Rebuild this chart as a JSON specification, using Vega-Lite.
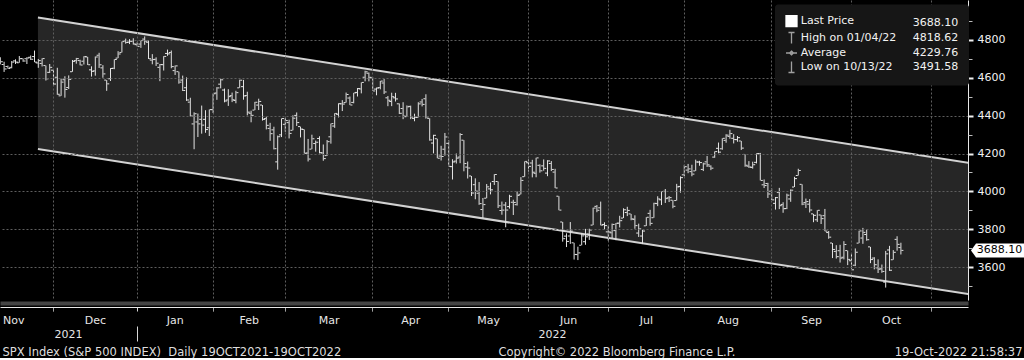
{
  "$schema": "https://vega.github.io/schema/vega-lite/v6.json",
  "width": 968,
  "height": 300,
  "padding": 0,
  "background": "#000000",
  "config": {"view": {"stroke": null}, "font": "DejaVu Sans"},
  "datasets": {
    "chan": [
      {"i": 15.9, "up": 4918, "lo": 4224},
      {"i": 260.7, "up": 4151, "lo": 3457}
    ],
    "leg": [
      {"item": "Last Price", "val": "3688.10"},
      {"item": "High on 01/04/22", "val": "4818.62"},
      {"item": "Average", "val": "4229.76"},
      {"item": "Low on 10/13/22", "val": "3491.58"}
    ],
    "spx": [
      {"d":"2021-11-08","i":5,"o":4701.5,"h":4714.9,"l":4694.4,"c":4701.7},
      {"d":"2021-11-09","i":6,"o":4707.3,"h":4708.5,"l":4670.9,"c":4685.3},
      {"d":"2021-11-10","i":7,"o":4670.3,"h":4684.9,"l":4630.9,"c":4646.7},
      {"d":"2021-11-11","i":8,"o":4659.4,"h":4664.6,"l":4648.3,"c":4649.3},
      {"d":"2021-11-12","i":9,"o":4655.2,"h":4688.5,"l":4650.0,"c":4682.9},
      {"d":"2021-11-15","i":10,"o":4689.3,"h":4697.4,"l":4672.9,"c":4682.8},
      {"d":"2021-11-16","i":11,"o":4679.4,"h":4714.9,"l":4679.4,"c":4700.9},
      {"d":"2021-11-17","i":12,"o":4701.5,"h":4701.5,"l":4684.4,"c":4688.7},
      {"d":"2021-11-18","i":13,"o":4700.7,"h":4708.8,"l":4672.8,"c":4704.5},
      {"d":"2021-11-19","i":14,"o":4708.4,"h":4717.8,"l":4694.2,"c":4697.9},
      {"d":"2021-11-22","i":15,"o":4712.0,"h":4743.8,"l":4682.2,"c":4682.9},
      {"d":"2021-11-23","i":16,"o":4678.5,"h":4699.4,"l":4652.7,"c":4690.7},
      {"d":"2021-11-24","i":17,"o":4675.8,"h":4702.9,"l":4659.9,"c":4701.5},
      {"d":"2021-11-26","i":18,"o":4664.6,"h":4664.6,"l":4585.4,"c":4594.6},
      {"d":"2021-11-29","i":19,"o":4628.8,"h":4672.9,"l":4625.3,"c":4655.3},
      {"d":"2021-11-30","i":20,"o":4640.2,"h":4646.0,"l":4560.0,"c":4567.0},
      {"d":"2021-12-01","i":21,"o":4602.8,"h":4652.9,"l":4510.3,"c":4513.0},
      {"d":"2021-12-02","i":22,"o":4504.7,"h":4595.5,"l":4504.7,"c":4577.1},
      {"d":"2021-12-03","i":23,"o":4589.5,"h":4608.0,"l":4495.1,"c":4538.4},
      {"d":"2021-12-06","i":24,"o":4548.4,"h":4612.6,"l":4540.5,"c":4591.7},
      {"d":"2021-12-07","i":25,"o":4632.0,"h":4694.0,"l":4631.9,"c":4686.8},
      {"d":"2021-12-08","i":26,"o":4690.9,"h":4705.1,"l":4674.5,"c":4701.2},
      {"d":"2021-12-09","i":27,"o":4691.0,"h":4695.3,"l":4666.0,"c":4667.5},
      {"d":"2021-12-10","i":28,"o":4687.6,"h":4713.6,"l":4670.2,"c":4712.0},
      {"d":"2021-12-13","i":29,"o":4710.3,"h":4710.3,"l":4667.6,"c":4669.0},
      {"d":"2021-12-14","i":30,"o":4642.0,"h":4660.5,"l":4606.5,"c":4634.1},
      {"d":"2021-12-15","i":31,"o":4636.5,"h":4712.6,"l":4611.2,"c":4709.9},
      {"d":"2021-12-16","i":32,"o":4719.1,"h":4732.0,"l":4651.9,"c":4668.7},
      {"d":"2021-12-17","i":33,"o":4652.5,"h":4666.7,"l":4600.2,"c":4620.6},
      {"d":"2021-12-20","i":34,"o":4587.9,"h":4587.9,"l":4531.1,"c":4568.0},
      {"d":"2021-12-21","i":35,"o":4595.0,"h":4651.1,"l":4583.2,"c":4649.2},
      {"d":"2021-12-22","i":36,"o":4650.4,"h":4697.7,"l":4645.5,"c":4696.6},
      {"d":"2021-12-23","i":37,"o":4704.0,"h":4740.7,"l":4704.0,"c":4725.8},
      {"d":"2021-12-27","i":38,"o":4734.0,"h":4791.5,"l":4734.0,"c":4791.2},
      {"d":"2021-12-28","i":39,"o":4795.5,"h":4807.0,"l":4780.0,"c":4786.4},
      {"d":"2021-12-29","i":40,"o":4788.6,"h":4804.1,"l":4778.1,"c":4793.1},
      {"d":"2021-12-30","i":41,"o":4794.2,"h":4808.9,"l":4775.3,"c":4778.7},
      {"d":"2021-12-31","i":42,"o":4775.2,"h":4786.8,"l":4765.8,"c":4766.2},
      {"d":"2022-01-03","i":43,"o":4778.1,"h":4796.6,"l":4758.2,"c":4796.6},
      {"d":"2022-01-04","i":44,"o":4804.5,"h":4818.6,"l":4774.3,"c":4793.5},
      {"d":"2022-01-05","i":45,"o":4788.0,"h":4797.7,"l":4699.4,"c":4700.6},
      {"d":"2022-01-06","i":46,"o":4693.4,"h":4725.0,"l":4671.3,"c":4696.1},
      {"d":"2022-01-07","i":47,"o":4697.7,"h":4708.0,"l":4662.7,"c":4677.0},
      {"d":"2022-01-10","i":48,"o":4655.3,"h":4673.0,"l":4582.2,"c":4670.3},
      {"d":"2022-01-11","i":49,"o":4669.1,"h":4714.1,"l":4638.3,"c":4713.1},
      {"d":"2022-01-12","i":50,"o":4728.6,"h":4749.0,"l":4716.1,"c":4726.4},
      {"d":"2022-01-13","i":51,"o":4733.6,"h":4744.1,"l":4650.3,"c":4659.0},
      {"d":"2022-01-14","i":52,"o":4638.0,"h":4665.1,"l":4614.8,"c":4662.9},
      {"d":"2022-01-18","i":53,"o":4632.2,"h":4632.2,"l":4568.7,"c":4577.1},
      {"d":"2022-01-19","i":54,"o":4588.0,"h":4611.6,"l":4530.2,"c":4532.8},
      {"d":"2022-01-20","i":55,"o":4547.4,"h":4602.1,"l":4478.0,"c":4482.7},
      {"d":"2022-01-21","i":56,"o":4471.4,"h":4494.5,"l":4395.3,"c":4397.9},
      {"d":"2022-01-24","i":57,"o":4356.3,"h":4417.4,"l":4222.6,"c":4410.1},
      {"d":"2022-01-25","i":58,"o":4366.6,"h":4411.0,"l":4287.1,"c":4356.5},
      {"d":"2022-01-26","i":59,"o":4380.6,"h":4453.2,"l":4304.8,"c":4349.9},
      {"d":"2022-01-27","i":60,"o":4380.6,"h":4428.7,"l":4309.5,"c":4326.5},
      {"d":"2022-01-28","i":61,"o":4336.2,"h":4432.7,"l":4292.5,"c":4431.9},
      {"d":"2022-01-31","i":62,"o":4431.8,"h":4516.9,"l":4414.0,"c":4515.6},
      {"d":"2022-02-01","i":63,"o":4519.6,"h":4550.5,"l":4483.5,"c":4546.5},
      {"d":"2022-02-02","i":64,"o":4566.4,"h":4595.3,"l":4544.3,"c":4589.4},
      {"d":"2022-02-03","i":65,"o":4535.4,"h":4542.9,"l":4470.4,"c":4477.4},
      {"d":"2022-02-04","i":66,"o":4482.8,"h":4539.7,"l":4451.5,"c":4500.5},
      {"d":"2022-02-07","i":67,"o":4505.8,"h":4521.9,"l":4471.5,"c":4483.9},
      {"d":"2022-02-08","i":68,"o":4480.0,"h":4531.3,"l":4465.4,"c":4521.5},
      {"d":"2022-02-09","i":69,"o":4547.0,"h":4590.0,"l":4547.0,"c":4587.2},
      {"d":"2022-02-10","i":70,"o":4553.2,"h":4588.9,"l":4484.3,"c":4504.1},
      {"d":"2022-02-11","i":71,"o":4506.3,"h":4526.3,"l":4401.4,"c":4418.6},
      {"d":"2022-02-14","i":72,"o":4412.6,"h":4426.2,"l":4364.8,"c":4401.7},
      {"d":"2022-02-15","i":73,"o":4429.3,"h":4472.8,"l":4429.3,"c":4471.1},
      {"d":"2022-02-16","i":74,"o":4455.8,"h":4489.6,"l":4429.7,"c":4475.0},
      {"d":"2022-02-17","i":75,"o":4456.1,"h":4456.1,"l":4373.8,"c":4380.3},
      {"d":"2022-02-18","i":76,"o":4384.6,"h":4394.6,"l":4327.2,"c":4348.9},
      {"d":"2022-02-22","i":77,"o":4332.7,"h":4362.1,"l":4267.1,"c":4304.8},
      {"d":"2022-02-23","i":78,"o":4324.9,"h":4341.5,"l":4221.5,"c":4225.5},
      {"d":"2022-02-24","i":79,"o":4155.8,"h":4294.7,"l":4114.7,"c":4288.7},
      {"d":"2022-02-25","i":80,"o":4298.4,"h":4385.3,"l":4286.8,"c":4384.7},
      {"d":"2022-02-28","i":81,"o":4354.2,"h":4388.8,"l":4315.1,"c":4373.9},
      {"d":"2022-03-01","i":82,"o":4363.1,"h":4378.5,"l":4279.5,"c":4306.3},
      {"d":"2022-03-02","i":83,"o":4322.6,"h":4401.5,"l":4322.6,"c":4386.5},
      {"d":"2022-03-03","i":84,"o":4401.3,"h":4416.8,"l":4345.6,"c":4363.5},
      {"d":"2022-03-04","i":85,"o":4342.1,"h":4342.1,"l":4285.0,"c":4328.9},
      {"d":"2022-03-07","i":86,"o":4327.0,"h":4327.0,"l":4199.9,"c":4201.1},
      {"d":"2022-03-08","i":87,"o":4202.7,"h":4276.9,"l":4157.9,"c":4170.7},
      {"d":"2022-03-09","i":88,"o":4223.1,"h":4299.4,"l":4223.1,"c":4277.9},
      {"d":"2022-03-10","i":89,"o":4252.6,"h":4268.3,"l":4209.8,"c":4259.5},
      {"d":"2022-03-11","i":90,"o":4279.5,"h":4291.0,"l":4200.5,"c":4204.3},
      {"d":"2022-03-14","i":91,"o":4202.8,"h":4247.6,"l":4161.7,"c":4173.1},
      {"d":"2022-03-15","i":92,"o":4188.8,"h":4271.1,"l":4187.9,"c":4262.5},
      {"d":"2022-03-16","i":93,"o":4288.1,"h":4358.0,"l":4252.0,"c":4357.9},
      {"d":"2022-03-17","i":94,"o":4345.1,"h":4412.7,"l":4335.7,"c":4411.7},
      {"d":"2022-03-18","i":95,"o":4407.3,"h":4465.4,"l":4390.6,"c":4463.1},
      {"d":"2022-03-21","i":96,"o":4462.4,"h":4481.8,"l":4424.3,"c":4461.2},
      {"d":"2022-03-22","i":97,"o":4469.1,"h":4522.0,"l":4469.1,"c":4511.6},
      {"d":"2022-03-23","i":98,"o":4493.1,"h":4501.1,"l":4455.8,"c":4456.2},
      {"d":"2022-03-24","i":99,"o":4470.0,"h":4520.6,"l":4465.2,"c":4520.2},
      {"d":"2022-03-25","i":100,"o":4522.7,"h":4546.0,"l":4501.1,"c":4543.1},
      {"d":"2022-03-28","i":101,"o":4541.1,"h":4575.7,"l":4517.7,"c":4575.5},
      {"d":"2022-03-29","i":102,"o":4602.9,"h":4637.3,"l":4581.2,"c":4631.6},
      {"d":"2022-03-30","i":103,"o":4624.2,"h":4627.8,"l":4581.3,"c":4602.5},
      {"d":"2022-03-31","i":104,"o":4599.0,"h":4603.1,"l":4530.4,"c":4530.4},
      {"d":"2022-04-01","i":105,"o":4540.3,"h":4548.7,"l":4507.6,"c":4545.9},
      {"d":"2022-04-04","i":106,"o":4548.0,"h":4583.5,"l":4539.2,"c":4582.6},
      {"d":"2022-04-05","i":107,"o":4572.5,"h":4593.5,"l":4514.2,"c":4525.1},
      {"d":"2022-04-06","i":108,"o":4494.2,"h":4503.9,"l":4450.0,"c":4481.2},
      {"d":"2022-04-07","i":109,"o":4474.7,"h":4521.2,"l":4450.3,"c":4500.2},
      {"d":"2022-04-08","i":110,"o":4494.2,"h":4520.4,"l":4474.6,"c":4488.3},
      {"d":"2022-04-11","i":111,"o":4462.6,"h":4464.3,"l":4408.4,"c":4412.5},
      {"d":"2022-04-12","i":112,"o":4437.6,"h":4471.0,"l":4381.3,"c":4397.5},
      {"d":"2022-04-13","i":113,"o":4394.3,"h":4453.9,"l":4392.7,"c":4446.6},
      {"d":"2022-04-14","i":114,"o":4449.1,"h":4452.8,"l":4381.3,"c":4392.6},
      {"d":"2022-04-18","i":115,"o":4385.6,"h":4410.3,"l":4370.3,"c":4391.7},
      {"d":"2022-04-19","i":116,"o":4390.6,"h":4471.0,"l":4390.6,"c":4462.2},
      {"d":"2022-04-20","i":117,"o":4472.3,"h":4488.3,"l":4448.8,"c":4459.5},
      {"d":"2022-04-21","i":118,"o":4489.2,"h":4512.9,"l":4384.5,"c":4393.7},
      {"d":"2022-04-22","i":119,"o":4385.8,"h":4385.8,"l":4267.6,"c":4271.8},
      {"d":"2022-04-25","i":120,"o":4255.3,"h":4299.0,"l":4200.8,"c":4296.1},
      {"d":"2022-04-26","i":121,"o":4278.1,"h":4278.1,"l":4175.0,"c":4175.2},
      {"d":"2022-04-27","i":122,"o":4186.5,"h":4240.7,"l":4162.9,"c":4184.0},
      {"d":"2022-04-28","i":123,"o":4222.6,"h":4308.5,"l":4188.6,"c":4287.5},
      {"d":"2022-04-29","i":124,"o":4253.8,"h":4269.7,"l":4131.6,"c":4131.9},
      {"d":"2022-05-02","i":125,"o":4130.6,"h":4169.8,"l":4062.5,"c":4155.4},
      {"d":"2022-05-03","i":126,"o":4159.8,"h":4200.1,"l":4147.1,"c":4175.5},
      {"d":"2022-05-04","i":127,"o":4181.2,"h":4307.7,"l":4148.9,"c":4300.2},
      {"d":"2022-05-05","i":128,"o":4270.4,"h":4270.4,"l":4106.0,"c":4146.9},
      {"d":"2022-05-06","i":129,"o":4128.2,"h":4157.7,"l":4067.9,"c":4123.3},
      {"d":"2022-05-09","i":130,"o":4081.3,"h":4081.3,"l":3975.5,"c":3991.2},
      {"d":"2022-05-10","i":131,"o":4035.2,"h":4068.8,"l":3958.2,"c":4001.1},
      {"d":"2022-05-11","i":132,"o":3990.1,"h":4049.1,"l":3928.8,"c":3935.2},
      {"d":"2022-05-12","i":133,"o":3904.0,"h":3964.8,"l":3858.9,"c":3930.1},
      {"d":"2022-05-13","i":134,"o":3963.9,"h":4038.9,"l":3963.9,"c":4023.9},
      {"d":"2022-05-16","i":135,"o":4013.0,"h":4046.5,"l":3984.0,"c":4008.0},
      {"d":"2022-05-17","i":136,"o":4052.0,"h":4090.7,"l":4033.9,"c":4088.9},
      {"d":"2022-05-18","i":137,"o":4052.0,"h":4052.0,"l":3911.9,"c":3923.7},
      {"d":"2022-05-19","i":138,"o":3899.0,"h":3946.0,"l":3876.6,"c":3901.0},
      {"d":"2022-05-20","i":139,"o":3927.8,"h":3943.4,"l":3810.3,"c":3901.4},
      {"d":"2022-05-23","i":140,"o":3919.4,"h":3981.9,"l":3909.0,"c":3973.8},
      {"d":"2022-05-24","i":141,"o":3942.9,"h":3955.7,"l":3875.1,"c":3941.5},
      {"d":"2022-05-25","i":142,"o":3929.6,"h":3999.3,"l":3925.0,"c":3978.7},
      {"d":"2022-05-26","i":143,"o":3984.6,"h":4075.1,"l":3984.6,"c":4057.8},
      {"d":"2022-05-27","i":144,"o":4077.4,"h":4158.5,"l":4077.4,"c":4158.2},
      {"d":"2022-05-31","i":145,"o":4151.1,"h":4168.3,"l":4104.9,"c":4132.2},
      {"d":"2022-06-01","i":146,"o":4149.8,"h":4166.5,"l":4073.9,"c":4101.2},
      {"d":"2022-06-02","i":147,"o":4095.4,"h":4177.5,"l":4074.4,"c":4176.8},
      {"d":"2022-06-03","i":148,"o":4137.6,"h":4142.7,"l":4098.7,"c":4108.5},
      {"d":"2022-06-06","i":149,"o":4134.7,"h":4168.8,"l":4109.2,"c":4121.4},
      {"d":"2022-06-07","i":150,"o":4096.5,"h":4164.9,"l":4080.2,"c":4160.7},
      {"d":"2022-06-08","i":151,"o":4147.1,"h":4160.1,"l":4107.2,"c":4115.8},
      {"d":"2022-06-09","i":152,"o":4101.7,"h":4119.1,"l":4017.2,"c":4017.8},
      {"d":"2022-06-10","i":153,"o":3974.4,"h":3974.4,"l":3900.2,"c":3900.9},
      {"d":"2022-06-13","i":154,"o":3838.2,"h":3838.2,"l":3734.3,"c":3750.0},
      {"d":"2022-06-14","i":155,"o":3763.5,"h":3778.2,"l":3705.7,"c":3735.5},
      {"d":"2022-06-15","i":156,"o":3764.1,"h":3837.9,"l":3722.3,"c":3790.0},
      {"d":"2022-06-16","i":157,"o":3728.2,"h":3728.2,"l":3639.8,"c":3666.8},
      {"d":"2022-06-17","i":158,"o":3665.9,"h":3707.7,"l":3636.9,"c":3674.8},
      {"d":"2022-06-21","i":159,"o":3715.3,"h":3779.7,"l":3715.3,"c":3764.8},
      {"d":"2022-06-22","i":160,"o":3733.9,"h":3801.8,"l":3717.7,"c":3759.9},
      {"d":"2022-06-23","i":161,"o":3774.7,"h":3802.6,"l":3743.5,"c":3795.7},
      {"d":"2022-06-24","i":162,"o":3821.8,"h":3913.7,"l":3821.8,"c":3911.7},
      {"d":"2022-06-27","i":163,"o":3920.8,"h":3927.7,"l":3889.7,"c":3900.1},
      {"d":"2022-06-28","i":164,"o":3913.0,"h":3945.9,"l":3820.1,"c":3821.6},
      {"d":"2022-06-29","i":165,"o":3825.1,"h":3836.5,"l":3799.0,"c":3819.0},
      {"d":"2022-06-30","i":166,"o":3786.0,"h":3819.0,"l":3738.7,"c":3785.4},
      {"d":"2022-07-01","i":167,"o":3781.0,"h":3829.8,"l":3752.1,"c":3825.3},
      {"d":"2022-07-05","i":168,"o":3792.6,"h":3832.2,"l":3742.1,"c":3831.4},
      {"d":"2022-07-06","i":169,"o":3832.0,"h":3870.9,"l":3809.4,"c":3845.1},
      {"d":"2022-07-07","i":170,"o":3858.9,"h":3910.6,"l":3858.9,"c":3902.6},
      {"d":"2022-07-08","i":171,"o":3888.3,"h":3918.5,"l":3869.3,"c":3899.4},
      {"d":"2022-07-11","i":172,"o":3880.9,"h":3880.9,"l":3847.2,"c":3854.4},
      {"d":"2022-07-12","i":173,"o":3852.0,"h":3873.4,"l":3802.4,"c":3818.8},
      {"d":"2022-07-13","i":174,"o":3779.7,"h":3829.4,"l":3759.1,"c":3801.8},
      {"d":"2022-07-14","i":175,"o":3764.0,"h":3796.4,"l":3721.6,"c":3790.4},
      {"d":"2022-07-15","i":176,"o":3818.0,"h":3863.6,"l":3817.2,"c":3863.2},
      {"d":"2022-07-18","i":177,"o":3883.8,"h":3902.4,"l":3818.6,"c":3830.9},
      {"d":"2022-07-19","i":178,"o":3860.7,"h":3939.8,"l":3860.7,"c":3936.7},
      {"d":"2022-07-20","i":179,"o":3935.3,"h":3974.1,"l":3922.0,"c":3959.9},
      {"d":"2022-07-21","i":180,"o":3955.5,"h":3999.3,"l":3927.6,"c":3999.0},
      {"d":"2022-07-22","i":181,"o":4000.2,"h":4012.4,"l":3938.8,"c":3961.6},
      {"d":"2022-07-25","i":182,"o":3965.7,"h":3975.3,"l":3943.5,"c":3966.8},
      {"d":"2022-07-26","i":183,"o":3953.2,"h":3953.2,"l":3910.7,"c":3921.1},
      {"d":"2022-07-27","i":184,"o":3951.4,"h":4039.6,"l":3951.4,"c":4023.6},
      {"d":"2022-07-28","i":185,"o":4026.1,"h":4079.0,"l":3993.0,"c":4072.4},
      {"d":"2022-07-29","i":186,"o":4087.3,"h":4140.2,"l":4079.2,"c":4130.3},
      {"d":"2022-08-01","i":187,"o":4112.4,"h":4145.0,"l":4096.0,"c":4118.6},
      {"d":"2022-08-02","i":188,"o":4104.2,"h":4140.5,"l":4079.8,"c":4091.2},
      {"d":"2022-08-03","i":189,"o":4108.0,"h":4167.7,"l":4108.0,"c":4155.2},
      {"d":"2022-08-04","i":190,"o":4154.9,"h":4161.3,"l":4135.4,"c":4151.9},
      {"d":"2022-08-05","i":191,"o":4115.9,"h":4151.6,"l":4107.3,"c":4145.2},
      {"d":"2022-08-08","i":192,"o":4155.9,"h":4186.6,"l":4129.0,"c":4140.1},
      {"d":"2022-08-09","i":193,"o":4133.1,"h":4137.3,"l":4112.1,"c":4122.5},
      {"d":"2022-08-10","i":194,"o":4181.0,"h":4211.0,"l":4177.3,"c":4210.2},
      {"d":"2022-08-11","i":195,"o":4227.4,"h":4257.9,"l":4201.4,"c":4207.3},
      {"d":"2022-08-12","i":196,"o":4225.0,"h":4280.5,"l":4219.8,"c":4280.2},
      {"d":"2022-08-15","i":197,"o":4269.4,"h":4301.8,"l":4256.9,"c":4297.1},
      {"d":"2022-08-16","i":198,"o":4290.5,"h":4325.3,"l":4277.8,"c":4305.2},
      {"d":"2022-08-17","i":199,"o":4280.4,"h":4302.2,"l":4253.1,"c":4274.0},
      {"d":"2022-08-18","i":200,"o":4273.1,"h":4292.5,"l":4262.0,"c":4283.7},
      {"d":"2022-08-19","i":201,"o":4266.3,"h":4266.3,"l":4218.7,"c":4228.5},
      {"d":"2022-08-22","i":202,"o":4195.1,"h":4195.1,"l":4129.9,"c":4138.0},
      {"d":"2022-08-23","i":203,"o":4133.1,"h":4159.8,"l":4124.0,"c":4128.7},
      {"d":"2022-08-24","i":204,"o":4126.6,"h":4156.6,"l":4120.0,"c":4140.8},
      {"d":"2022-08-25","i":205,"o":4153.3,"h":4200.5,"l":4147.6,"c":4199.1},
      {"d":"2022-08-26","i":206,"o":4198.7,"h":4203.0,"l":4057.7,"c":4057.7},
      {"d":"2022-08-29","i":207,"o":4034.6,"h":4063.0,"l":4017.4,"c":4030.6},
      {"d":"2022-08-30","i":208,"o":4041.3,"h":4045.0,"l":3965.2,"c":3986.2},
      {"d":"2022-08-31","i":209,"o":4000.7,"h":4015.4,"l":3954.5,"c":3955.0},
      {"d":"2022-09-01","i":210,"o":3936.7,"h":3970.2,"l":3903.7,"c":3966.9},
      {"d":"2022-09-02","i":211,"o":3994.7,"h":4018.4,"l":3906.2,"c":3924.3},
      {"d":"2022-09-06","i":212,"o":3930.9,"h":3942.6,"l":3886.8,"c":3908.2},
      {"d":"2022-09-07","i":213,"o":3909.4,"h":3987.9,"l":3906.0,"c":3979.9},
      {"d":"2022-09-08","i":214,"o":3959.9,"h":4010.5,"l":3944.8,"c":4006.2},
      {"d":"2022-09-09","i":215,"o":4022.9,"h":4076.8,"l":4022.9,"c":4067.4},
      {"d":"2022-09-12","i":216,"o":4083.7,"h":4119.3,"l":4083.7,"c":4110.4},
      {"d":"2022-09-13","i":217,"o":4037.1,"h":4037.1,"l":3927.0,"c":3932.7},
      {"d":"2022-09-14","i":218,"o":3940.7,"h":3961.9,"l":3912.2,"c":3946.0},
      {"d":"2022-09-15","i":219,"o":3932.4,"h":3959.1,"l":3888.3,"c":3901.4},
      {"d":"2022-09-16","i":220,"o":3881.0,"h":3881.0,"l":3837.1,"c":3873.3},
      {"d":"2022-09-19","i":221,"o":3849.9,"h":3900.5,"l":3838.5,"c":3899.9},
      {"d":"2022-09-20","i":222,"o":3875.2,"h":3876.0,"l":3827.5,"c":3855.9},
      {"d":"2022-09-21","i":223,"o":3871.4,"h":3907.1,"l":3789.5,"c":3789.9},
      {"d":"2022-09-22","i":224,"o":3782.4,"h":3790.7,"l":3749.5,"c":3758.0},
      {"d":"2022-09-23","i":225,"o":3727.1,"h":3727.1,"l":3647.5,"c":3693.2},
      {"d":"2022-09-26","i":226,"o":3682.7,"h":3715.7,"l":3644.8,"c":3655.0},
      {"d":"2022-09-27","i":227,"o":3686.4,"h":3717.5,"l":3623.7,"c":3647.3},
      {"d":"2022-09-28","i":228,"o":3651.9,"h":3736.7,"l":3640.6,"c":3719.0},
      {"d":"2022-09-29","i":229,"o":3687.0,"h":3687.0,"l":3610.4,"c":3640.5},
      {"d":"2022-09-30","i":230,"o":3633.5,"h":3671.4,"l":3584.1,"c":3585.6},
      {"d":"2022-10-03","i":231,"o":3609.8,"h":3698.4,"l":3604.9,"c":3678.4},
      {"d":"2022-10-04","i":232,"o":3726.5,"h":3791.9,"l":3726.5,"c":3790.9},
      {"d":"2022-10-05","i":233,"o":3753.3,"h":3806.9,"l":3722.7,"c":3783.3},
      {"d":"2022-10-06","i":234,"o":3772.0,"h":3797.9,"l":3739.2,"c":3744.5},
      {"d":"2022-10-07","i":235,"o":3706.7,"h":3706.7,"l":3620.7,"c":3639.7},
      {"d":"2022-10-10","i":236,"o":3647.5,"h":3652.2,"l":3588.1,"c":3612.4},
      {"d":"2022-10-11","i":237,"o":3595.9,"h":3640.7,"l":3568.5,"c":3588.8},
      {"d":"2022-10-12","i":238,"o":3590.8,"h":3613.4,"l":3569.7,"c":3577.0},
      {"d":"2022-10-13","i":239,"o":3520.4,"h":3685.4,"l":3491.6,"c":3669.9},
      {"d":"2022-10-14","i":240,"o":3690.4,"h":3712.0,"l":3579.7,"c":3583.1},
      {"d":"2022-10-17","i":241,"o":3638.7,"h":3689.7,"l":3638.7,"c":3678.0},
      {"d":"2022-10-18","i":242,"o":3746.3,"h":3762.8,"l":3686.5,"c":3720.0},
      {"d":"2022-10-19","i":243,"o":3703.1,"h":3728.6,"l":3666.5,"c":3688.1}
    ]
  },
  "resolve": {"axis": {"x": "independent", "y": "independent"}},
  "layer": [
    {
      "data": {"name": "chan"},
      "mark": {"type": "area", "color": "#262626", "opacity": 1, "clip": true},
      "encoding": {
        "x": {"field": "i", "type": "quantitative", "scale": {"domain": [5.92, 260.66], "nice": false, "zero": false},
          "axis": {"orient": "bottom", "offset": 7, "values": [19.9, 41.9, 61.9, 80.9, 103.9, 123.9, 144.9, 165.9, 185.9, 208.9, 229.9, 250.9],
            "labels": false, "grid": true, "gridColor": "#5e5e5e", "gridDash": [2, 2], "gridWidth": 1,
            "ticks": true, "tickColor": "#d6d6d6", "tickWidth": 1,
            "tickSize": {"condition": {"test": "datum.value == 41.9", "value": 34}, "value": 4},
            "tickDash": {"condition": {"test": "datum.value == 41.9", "value": [4, 15, 15]}, "value": [1, 0]},
            "domain": true, "domainColor": "#e8e8e8", "domainWidth": 1,
            "title": "SPX Index (S&P 500 INDEX)\u00a0 Daily 19OCT2021-19OCT2022", "titleX": 2, "titleY": 45, "titleAlign": "left", "titleBaseline": "middle",
            "titleFont": "DejaVu Sans", "titleFontSize": 11.5, "titleFontWeight": "normal", "titleColor": "#dedede", "zindex": 1}},
        "y": {"field": "up", "type": "quantitative", "scale": {"domain": [3426, 5011], "nice": false, "zero": false},
          "axis": {"orient": "right", "values": [3600, 3800, 4000, 4200, 4400, 4600, 4800], "format": "d",
            "grid": true, "gridColor": "#5e5e5e", "gridDash": [2, 2], "gridWidth": 1,
            "ticks": true, "tickSize": 5, "tickWidth": 2, "tickColor": "#f0f0f0",
            "domain": true, "domainColor": "#e8e8e8", "domainWidth": 1,
            "labelFont": "DejaVu Sans", "labelFontSize": 11, "labelColor": "#f2f2f2", "labelPadding": 4, "title": null, "zindex": 1}},
        "y2": {"field": "lo"}
      }
    },
    {
      "data": {"name": "chan"},
      "mark": {"type": "line", "color": "#d2d2d2", "strokeWidth": 2, "clip": true},
      "encoding": {
        "x": {"field": "i", "type": "quantitative", "scale": {"domain": [5.92, 260.66], "nice": false, "zero": false},
          "axis": {"orient": "bottom", "offset": 7, "values": [9.4, 30.9, 51.9, 71.4, 92.4, 113.9, 134.4, 155.4, 175.9, 197.4, 219.4, 240.4],
            "labelExpr": "datum.value < 20 ? 'Nov' : datum.value < 40 ? 'Dec' : datum.value < 60 ? 'Jan' : datum.value < 80 ? 'Feb' : datum.value < 100 ? 'Mar' : datum.value < 120 ? 'Apr' : datum.value < 140 ? 'May' : datum.value < 160 ? 'Jun' : datum.value < 180 ? 'Jul' : datum.value < 205 ? 'Aug' : datum.value < 230 ? 'Sep' : 'Oct'",
            "labelFlush": false, "labelOverlap": false, "labelPadding": 7, "labelFont": "DejaVu Sans", "labelFontSize": 11, "labelColor": "#e6e6e6",
            "ticks": false, "tickSize": 0, "domain": false, "grid": false,
            "title": "Copyright© 2022 Bloomberg Finance L.P.", "titleX": 498, "titleY": 45, "titleAlign": "left", "titleBaseline": "middle",
            "titleFont": "DejaVu Sans", "titleFontSize": 11.5, "titleFontWeight": "normal", "titleColor": "#dedede", "zindex": 1}},
        "y": {"field": "up", "type": "quantitative", "scale": {"domain": [3426, 5011], "nice": false, "zero": false},
          "axis": {"orient": "right", "values": [3500, 3700, 3900, 4100, 4300, 4500, 4700, 4900], "labels": false, "grid": false, "domain": false,
            "ticks": true, "tickSize": 4, "tickWidth": 1, "tickColor": "#bcbcbc", "title": null, "zindex": 1}}
      }
    },
    {
      "data": {"name": "chan"},
      "mark": {"type": "line", "color": "#d2d2d2", "strokeWidth": 2, "clip": true},
      "encoding": {
        "x": {"field": "i", "type": "quantitative", "scale": {"domain": [5.92, 260.66], "nice": false, "zero": false},
          "axis": {"orient": "bottom", "offset": 3, "values": [23.8, 151.2],
            "labelExpr": "datum.value < 41.9 ? '2021' : '2022'",
            "labelFlush": false, "labelOverlap": false, "labelPadding": 25, "labelFont": "DejaVu Sans", "labelFontSize": 11, "labelColor": "#e6e6e6",
            "ticks": false, "tickSize": 0, "domain": true, "domainColor": "#444444", "domainWidth": 4, "grid": false,
            "title": "19-Oct-2022 21:58:37", "titleX": 1022, "titleY": 49, "titleAlign": "right", "titleBaseline": "middle",
            "titleFont": "DejaVu Sans", "titleFontSize": 11.5, "titleFontWeight": "normal", "titleColor": "#dedede", "zindex": 1}},
        "y": {"field": "lo", "type": "quantitative", "scale": {"domain": [3426, 5011], "nice": false, "zero": false}, "axis": null}
      }
    },
    {
      "data": {"name": "spx"},
      "mark": {"type": "rule", "color": "#e4e4e4", "strokeWidth": 1, "clip": true},
      "encoding": {
        "x": {"field": "i", "type": "quantitative", "scale": {"domain": [5.92, 260.66], "nice": false, "zero": false}, "axis": null},
        "y": {"field": "l", "type": "quantitative", "scale": {"domain": [3426, 5011], "nice": false, "zero": false}, "axis": null},
        "y2": {"field": "h"}
      }
    },
    {
      "data": {"name": "spx"},
      "mark": {"type": "tick", "orient": "horizontal", "color": "#e4e4e4", "size": 2, "thickness": 1, "xOffset": -1.5, "opacity": 1, "clip": true},
      "encoding": {
        "x": {"field": "i", "type": "quantitative", "scale": {"domain": [5.92, 260.66], "nice": false, "zero": false}, "axis": null},
        "y": {"field": "o", "type": "quantitative", "scale": {"domain": [3426, 5011], "nice": false, "zero": false}, "axis": null}
      }
    },
    {
      "data": {"name": "spx"},
      "mark": {"type": "tick", "orient": "horizontal", "color": "#e4e4e4", "size": 2, "thickness": 1, "xOffset": 1.5, "opacity": 1, "clip": true},
      "encoding": {
        "x": {"field": "i", "type": "quantitative", "scale": {"domain": [5.92, 260.66], "nice": false, "zero": false}, "axis": null},
        "y": {"field": "c", "type": "quantitative", "scale": {"domain": [3426, 5011], "nice": false, "zero": false}, "axis": null}
      }
    },
    {
      "data": {"name": "leg"},
      "transform": [{"fold": ["item", "val"]}, {"filter": "datum.value == null"}],
      "mark": {"type": "point", "opacity": 1, "strokeWidth": 1.3},
      "encoding": {
        "shape": {"field": "value", "type": "nominal",
          "scale": {"domain": ["Last Price", "3688.10", "High on 01/04/22", "4818.62", "Average", "4229.76", "Low on 10/13/22", "3491.58"],
            "range": ["M-1,-1H1V1H-1Z", "M0,0", "M-0.55,-1H0.55M0,-1V1", "M0,0", "M-1,0H1M0,-0.35L0.35,0L0,0.35L-0.35,0Z", "M0,0", "M0,-1V1M-0.55,1H0.55", "M0,0"]},
          "legend": {"orient": "none", "legendX": 775, "legendY": 4.5, "title": null, "padding": 10, "direction": "horizontal",
            "columns": 2, "columnPadding": 0, "rowPadding": 0, "gridAlign": "each",
            "fillColor": "#161616", "cornerRadius": 3,
            "symbolSize": 121, "symbolStrokeWidth": 1.3, "labelFont": "DejaVu Sans", "labelFontSize": 11, "labelColor": "#f2f2f2",
            "labelOffset": 2.8, "labelLimit": 200, "zindex": 2}},
        "fill": {"field": "value", "type": "nominal",
          "scale": {"domain": ["Last Price", "3688.10", "High on 01/04/22", "4818.62", "Average", "4229.76", "Low on 10/13/22", "3491.58"],
            "range": ["#ffffff", "transparent", "transparent", "transparent", "transparent", "transparent", "transparent", "transparent"]}},
        "stroke": {"field": "value", "type": "nominal",
          "scale": {"domain": ["Last Price", "3688.10", "High on 01/04/22", "4818.62", "Average", "4229.76", "Low on 10/13/22", "3491.58"],
            "range": ["#ffffff", "transparent", "#a0a0a0", "transparent", "#a0a0a0", "transparent", "#a0a0a0", "transparent"]}}
      }
    },
    {
      "data": {"name": "spx"},
      "transform": [{"filter": "datum.i == 243"}],
      "mark": {"type": "point", "shape": "M-1,0L-0.81,-0.264H1V0.264H-0.81Z", "size": 2809, "filled": true, "color": "#ffffff", "opacity": 1, "xOffset": 96.6},
      "encoding": {
        "x": {"field": "i", "type": "quantitative", "scale": {"domain": [5.92, 260.66], "nice": false, "zero": false}, "axis": null},
        "y": {"field": "c", "type": "quantitative", "scale": {"domain": [3426, 5011], "nice": false, "zero": false}, "axis": null}
      }
    },
    {
      "data": {"name": "spx"},
      "transform": [{"filter": "datum.i == 243"}],
      "mark": {"type": "text", "color": "#000000", "font": "DejaVu Sans", "fontSize": 11, "align": "center", "baseline": "middle", "dx": 98.6},
      "encoding": {
        "x": {"field": "i", "type": "quantitative", "scale": {"domain": [5.92, 260.66], "nice": false, "zero": false}, "axis": null},
        "y": {"field": "c", "type": "quantitative", "scale": {"domain": [3426, 5011], "nice": false, "zero": false}, "axis": null},
        "text": {"field": "c", "type": "quantitative", "format": ".2f"}
      }
    }
  ]
}
